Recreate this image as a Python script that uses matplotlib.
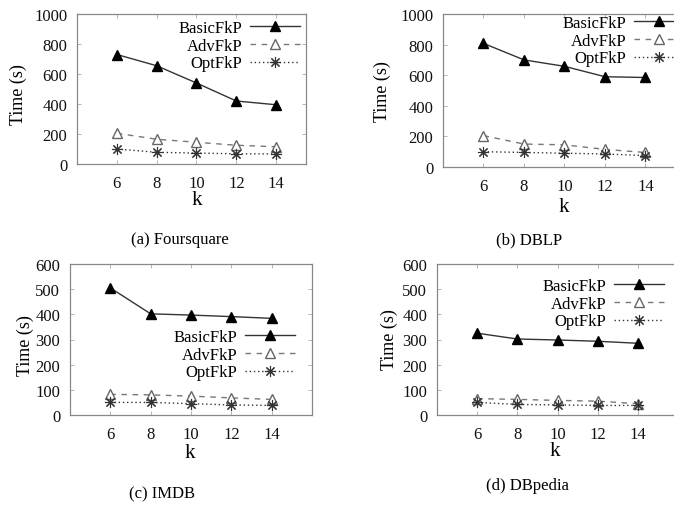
import matplotlib
matplotlib.use("Agg")
import matplotlib.pyplot as plt

plt.rcParams['font.family'] = ['Liberation Serif', 'DejaVu Serif']

k_values = [6, 8, 10, 12, 14]

four_basic = [730, 655, 540, 420, 395]
four_adv = [205, 165, 145, 125, 115]
four_opt = [100, 78, 73, 68, 67]

dblp_basic = [808, 700, 658, 590, 585]
dblp_adv = [205, 150, 145, 115, 95]
dblp_opt = [100, 95, 90, 85, 75]

imdb_basic = [505, 402, 397, 391, 384]
imdb_adv = [82, 80, 75, 68, 62]
imdb_opt = [50, 50, 45, 40, 38]

dbp_basic = [325, 302, 298, 293, 285]
dbp_adv = [65, 62, 58, 55, 45]
dbp_opt = [50, 42, 40, 38, 38]

series_names = ["BasicFkP", "AdvFkP", "OptFkP"]
captions = ["(a) Foursquare", "(b) DBLP", "(c) IMDB", "(d) DBpedia"]

W, H = 674, 506
fig = plt.figure(figsize=(W / 100, H / 100), dpi=100)
fig.patch.set_facecolor('white')


def rect(l, r, t, b):
    return [l / W, 1 - b / H, (r - l) / W, (b - t) / H]


def fx(px):
    return px / W


def fy(py):
    return 1 - py / H


panels = [
    dict(rect=rect(77, 306, 15, 165), xlim=(4, 15.5), ylim=(0, 1000), yt=range(0, 1001, 200),
         data=(four_basic, four_adv, four_opt), leg=(300, 21), ylab=(18, 95), xlab=(197, 201),
         cap=(180, 240)),
    dict(rect=rect(443, 688, 15, 168), xlim=(4, 16.1), ylim=(0, 1000), yt=range(0, 1001, 200),
         data=(dblp_basic, dblp_adv, dblp_opt), leg=(684, 16), ylab=(382, 92), xlab=(564, 207),
         cap=(529, 240)),
    dict(rect=rect(70, 312, 265, 416), xlim=(4, 16), ylim=(0, 600), yt=range(0, 601, 100),
         data=(imdb_basic, imdb_adv, imdb_opt), leg=(295, 330), ylab=(25, 346), xlab=(190, 453),
         cap=(162, 494)),
    dict(rect=rect(437, 678, 265, 416), xlim=(4, 16), ylim=(0, 600), yt=range(0, 601, 100),
         data=(dbp_basic, dbp_adv, dbp_opt), leg=(664, 279), ylab=(389, 340), xlab=(555, 452),
         cap=(527, 486)),
]

for i, p in enumerate(panels):
    ax = fig.add_axes(p['rect'])
    b, a, o = p['data']
    ax.plot(k_values, b, color='#333333', lw=1.0, ls='-', marker='^', ms=6.5,
            mfc='black', mec='black', label=series_names[0])
    ax.plot(k_values, a, color='#777777', lw=1.0, ls=(0, (4, 4)), marker='^', ms=7,
            mfc='white', mec='#666666', mew=1.0, label=series_names[1])
    ax.plot(k_values, o, color='#333333', lw=1.0, ls=(0, (1, 2)), marker=(8, 2, 0), ms=8,
            mfc='none', mec='#333333', mew=0.8, label=series_names[2])
    ax.set_xlim(*p['xlim'])
    ax.set_ylim(*p['ylim'])
    ax.set_xticks(k_values)
    ax.set_yticks(list(p['yt']))
    ax.tick_params(direction='in', length=3, width=0.6, color='#aaaaaa', labelsize=12,
                   top=True, right=True, labelcolor='#111111')
    ax.tick_params(axis='x', pad=8)
    ax.tick_params(axis='y', pad=7)
    for s in ax.spines.values():
        s.set_color('#888888')
        s.set_linewidth(0.9)
    ax.set_xlabel('k', fontsize=15, va='center')
    ax.xaxis.set_label_coords(fx(p['xlab'][0]), fy(p['xlab'][1]), transform=fig.transFigure)
    ax.set_ylabel('Time (s)', fontsize=13, va='center')
    ax.yaxis.set_label_coords(fx(p['ylab'][0]), fy(p['ylab'][1]), transform=fig.transFigure)
    lx, ly = p['leg']
    ax.legend(frameon=False, markerfirst=False, fontsize=12, handlelength=3.0,
              labelspacing=0.1, borderpad=0.0, borderaxespad=0.0, handletextpad=0.45,
              loc='upper right', bbox_to_anchor=(fx(lx), fy(ly)), bbox_transform=fig.transFigure)
    cx, cy = p['cap']
    fig.text(fx(cx), fy(cy), captions[i], ha='center', va='center', fontsize=12)

fig.savefig('out.png', dpi=100, facecolor='white')
